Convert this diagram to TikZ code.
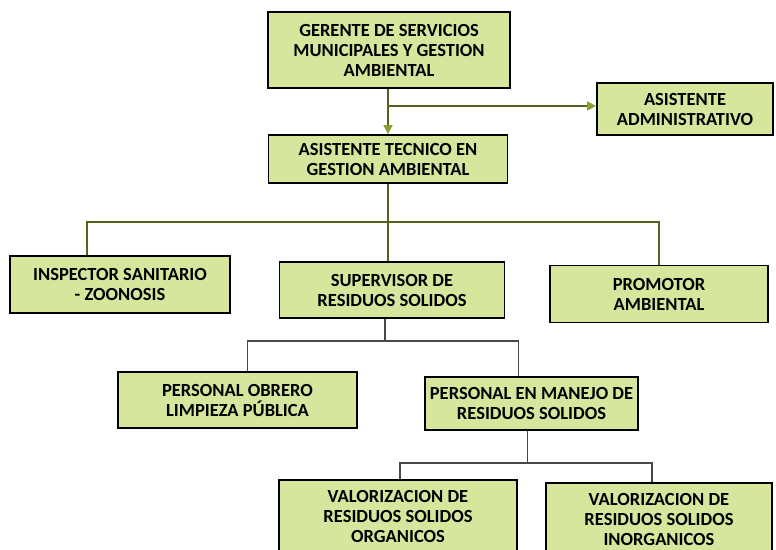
\documentclass[tikz,border=0pt]{standalone}
\usepackage{fontspec}
\setmainfont{Carlito}
\usetikzlibrary{arrows.meta,calc}
\definecolor{boxfill}{HTML}{D6E69C}
\definecolor{olive}{HTML}{55621E}
\definecolor{lgray}{HTML}{4A4A44}
\definecolor{arrowgreen}{HTML}{8C9E2C}
\tikzset{
  orgbox/.style={draw=black, line width=1.8pt, fill=boxfill, align=center,
    font=\fontsize{18.5}{20}\selectfont\bfseries, inner sep=2pt},
  conn/.style={draw=olive, line width=1.6pt},
  thinconn/.style={draw=lgray, line width=1.1pt},
  arr/.style={conn, -{Triangle[length=9pt,width=9pt,fill=arrowgreen,color=arrowgreen]}}
}
\begin{document}
\begin{tikzpicture}[x=1pt,y=-1pt]
\useasboundingbox (0,0) rectangle (776,549);
\fill[white] (0,0) rectangle (776,549);

\node[orgbox, minimum width=242pt, minimum height=76pt] (ger) at (389,50) {GERENTE DE SERVICIOS\\MUNICIPALES Y GESTION\\AMBIENTAL};
\node[orgbox, minimum width=176pt, minimum height=52pt] (adm) at (685,109) {ASISTENTE\\ADMINISTRATIVO};
\node[orgbox, minimum width=239pt, minimum height=48pt] (tec) at (388,159) {ASISTENTE TECNICO EN\\GESTION AMBIENTAL};

\node[orgbox, minimum width=220pt, minimum height=57pt] (ins) at (120,284.5) {INSPECTOR SANITARIO\\- ZOONOSIS};
\node[orgbox, minimum width=225pt, minimum height=56pt] (sup) at (392,290) {SUPERVISOR DE\\RESIDUOS SOLIDOS};
\node[orgbox, minimum width=218pt, minimum height=57pt] (pro) at (659,294) {PROMOTOR\\AMBIENTAL};

\node[orgbox, minimum width=239pt, minimum height=56pt] (obr) at (237.5,400) {PERSONAL OBRERO\\LIMPIEZA PÚBLICA};
\node[orgbox, minimum width=213pt, minimum height=53pt] (man) at (531.5,403.5) {PERSONAL EN MANEJO DE\\RESIDUOS SOLIDOS};

\node[orgbox, minimum width=238pt, minimum height=72pt] (org) at (398,516) {VALORIZACION DE\\RESIDUOS SOLIDOS\\ORGANICOS};
\node[orgbox, minimum width=226pt, minimum height=72pt] (ino) at (659,519) {VALORIZACION DE\\RESIDUOS SOLIDOS\\INORGANICOS};

% top arrows
\draw[arr] (tec.north |- ger.south) -- (tec.north);
\draw[arr] (tec.north |- 0,106) -- (adm.west |- 0,106);

% level 2 bus
\coordinate (bus1) at (tec.south |- 0,222);
\draw[conn] (tec.south) -- (bus1);
\draw[conn] ([xshift=-33pt]ins.north) -- ([xshift=-33pt]ins.north |- bus1) -- (pro.north |- bus1) -- (pro.north);
\draw[conn] (bus1) -- (tec.south |- sup.north);

% level 3 bus
\coordinate (bus2) at ([xshift=-7pt]sup.south |- 0,341);
\draw[thinconn] ([xshift=-7pt]sup.south) -- (bus2);
\draw[thinconn] ([xshift=10pt]obr.north) -- ([xshift=10pt]obr.north |- bus2) -- ([xshift=-13pt]man.north |- bus2) -- ([xshift=-13pt]man.north);

% level 4 bus
\coordinate (bus3) at ([xshift=-4pt]man.south |- 0,463);
\draw[thinconn] ([xshift=-4pt]man.south) -- (bus3);
\draw[thinconn] ([xshift=2pt]org.north) -- ([xshift=2pt]org.north |- bus3) -- ([xshift=-7pt]ino.north |- bus3) -- ([xshift=-7pt]ino.north);
\end{tikzpicture}
\end{document}
